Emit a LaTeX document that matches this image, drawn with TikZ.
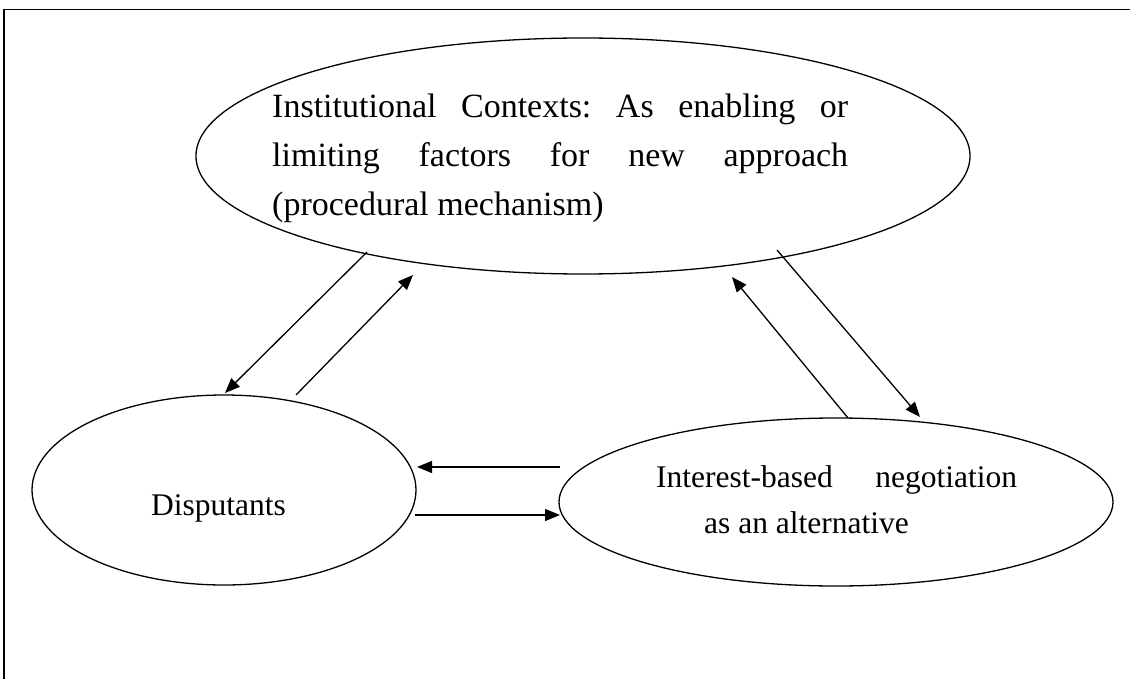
\documentclass[tikz,border=0pt]{standalone}
\usepackage{fontspec}
\setmainfont{Liberation Serif}
\usetikzlibrary{shapes.geometric,arrows.meta}
\begin{document}
\begin{tikzpicture}[x=1pt,y=-1pt,
  oval/.style={draw,ellipse,line width=1.3pt,inner sep=0pt},
  lbl/.style={inner sep=0pt,anchor=base west,font=\fontsize{31.5}{46}\selectfont},
  biglbl/.style={inner sep=0pt,anchor=base west,font=\fontsize{34}{49}\selectfont},
  conn/.style={line width=1.3pt,-{Triangle[length=15pt,width=12pt]}}]
\useasboundingbox (0,0) rectangle (1130,679);
\draw[line width=1.6pt] (4,679) -- (4,9.5) -- (1130,9.5);
% ellipses
\node[oval,minimum width=774pt,minimum height=236pt] (ctx) at (583,156) {};
\node[oval,minimum width=384pt,minimum height=190pt] (disp) at (224,490) {};
\node[oval,minimum width=554pt,minimum height=168pt] (neg) at (836,502) {};
% texts
\node[biglbl] (t1) at (272,118) {\makebox[576pt][l]{Institutional\hfill Contexts:\hfill As\hfill enabling\hfill or}};
\node[biglbl] (t2) at (272,167) {\makebox[576pt][l]{limiting\hfill factors\hfill for\hfill new\hfill approach}};
\node[biglbl] (t3) at (272,216) {(procedural mechanism)};
\node[lbl] (td) at (151,515) {Disputants};
\node[lbl] (tn1) at (656,487) {\makebox[361pt][l]{Interest-based\hfill negotiation}};
\node[lbl] (tn2) at (704,533) {as an alternative};
% connector end points
\coordinate (a1s) at (367,252); \coordinate (a1e) at (225,393);
\coordinate (a2s) at (296,395); \coordinate (a2e) at (413,275);
\coordinate (a3s) at (777,250); \coordinate (a3e) at (920,417);
\coordinate (a4s) at (848,418); \coordinate (a4e) at (732,277);
\coordinate (a5s) at (560,467); \coordinate (a5e) at (417,467);
\coordinate (a6s) at (415,515); \coordinate (a6e) at (560,515);
\draw[conn] (a1s) -- (a1e);
\draw[conn] (a2s) -- (a2e);
\draw[conn] (a3s) -- (a3e);
\draw[conn] (a4s) -- (a4e);
\draw[conn] (a5s) -- (a5e);
\draw[conn] (a6s) -- (a6e);
\end{tikzpicture}
\end{document}
